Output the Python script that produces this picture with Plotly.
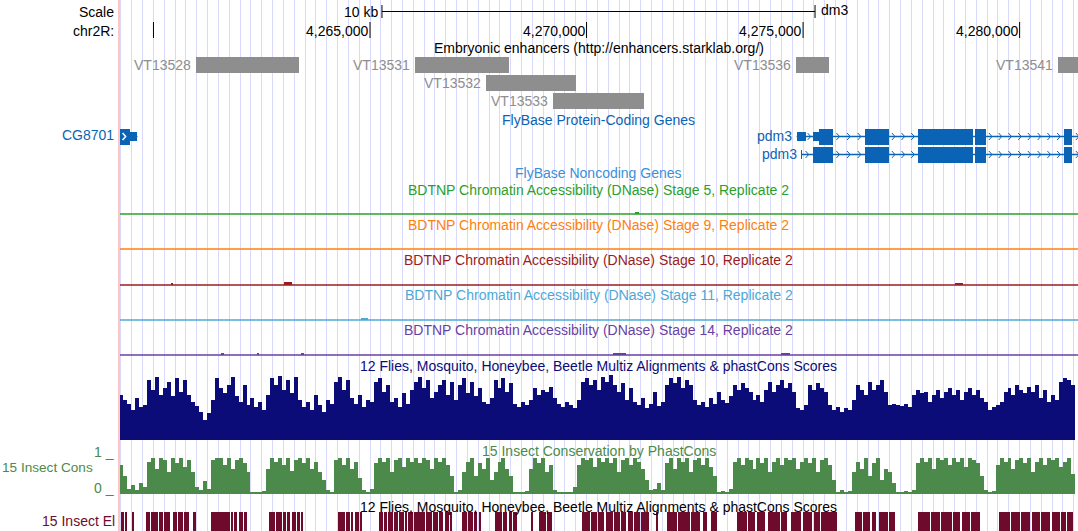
import plotly.graph_objects as go

# ---------------- data ----------------
chrom = "chr2R"
assembly = "dm3"
win_start = 4259204
win_end = 4281348

ruler_ticks = [4260000, 4265000, 4270000, 4275000, 4280000]
ruler_labels = ["", "4,265,000", "4,270,000", "4,275,000", "4,280,000"]
scale_bar_bp = 10000
scale_bar_label = "10 kb"

# Embryonic enhancers (Stark lab)
enh_names = ["VT13528", "VT13531", "VT13532", "VT13533", "VT13536", "VT13541"]
enh_start = [4260982, 4266039, 4267678, 4269225, 4274836, 4280886]
enh_end = [4263361, 4268210, 4269757, 4271327, 4275598, 4283000]
enh_row = [0, 0, 1, 2, 0, 0]

# FlyBase protein-coding genes
gene_names = ["CG8701", "pdm3", "pdm3"]
gene_row = [0, 0, 1]
gene_cds_start = [4252500, 4275367, 4275229]
gene_cds_end = [4259458, 4300000, 4300000]
gene_exon_starts = [
    [4258900],
    [4274852, 4275229, 4276430, 4277653, 4278981, 4281024, 4290000],
    [4274952, 4275229, 4276430, 4277653, 4278981, 4281024, 4290000],
]
gene_exon_ends = [
    [4259631],
    [4275067, 4275691, 4276984, 4278923, 4279223, 4281209, 4300000],
    [4274975, 4275691, 4276984, 4278923, 4279223, 4281209, 4300000],
]

# BDTNP DNase accessibility (nearly flat signal, a few small peaks)
bdtnp_stages = [5, 9, 10, 11, 14]
bdtnp_colors = ["#2ca02c", "#ff7f0e", "#9b1c22", "#4ea8d6", "#6a3fa5"]
peak_stage = [5, 10, 10, 10, 11, 14, 14, 14, 14, 14]
peak_start = [4271120, 4263010, 4260420, 4278500, 4264800, 4261580, 4262400, 4263400, 4270600, 4274500]
peak_end = [4271210, 4263200, 4260460, 4278700, 4264950, 4261620, 4262440, 4263480, 4270900, 4274700]
peak_height = [2, 3, 1.5, 1.5, 1.5, 1.5, 1.5, 1.5, 1.5, 1.5]

# fixedStep conservation wiggles
cons_start = 4259204
cons_step = 92
multiz_max = 65
multiz_cons = [45,40,36,30,42,33,35,60,50,63, 45,52,58,44,62,48,60,45,38,34,
               28,20,27,40,62,52,47,55,63,44, 38,55,35,42,33,38,30,45,62,55,
               64,50,60,47,63,40,33,38,30,45, 35,28,40,36,58,63,50,60,42,36,
               45,33,40,38,58,62,48,55,38,42, 33,47,36,50,58,63,52,60,42,48,
               55,60,45,58,40,55,62,47,58,44, 52,38,36,42,60,52,62,48,57,36,
               33,38,35,40,52,45,50,48,53,42, 36,33,38,35,32,40,58,62,55,60,
               50,63,58,65,55,48,57,40,52,38, 35,42,32,36,48,34,38,55,62,57,
               63,52,60,55,40,35,38,33,42,36, 48,40,37,44,55,50,57,52,48,40,
               45,38,50,58,48,55,60,52,57,48, 32,30,35,55,50,57,52,48,35,30,
               33,28,32,30,40,55,50,45,58,50, 55,60,48,35,36,35,34,36,33,45,
               50,47,48,38,45,50,42,48,52,45, 50,40,48,52,45,50,42,38,30,33,
               35,38,48,52,45,55,50,47,53,48, 55,42,50,38,45,40,58,62,60,55]
phast_cons = [80,50, 15,25,10,30,20, 90,100,70,100,95,60,100,85,100,75,95,60, 20,10,35,15,
              95,100,100,80,100,70,95,100,85,60, 5,3,2,8,
              70,100,90,100,80,100,65,95,100,85,100,70,90,60,40, 10,5,
              95,100,80,100,70,90,45, 10,5,15,
              85,100,90,100,60,95,100,75,100,90,100,85,100,95,70,100,90,100,80,50, 5,10,
              60,90,100,50,85,70,100,40,60, 90,100,70,50, 5,3,5,8,
              70,100,85,100,60,80, 10,5,3,2,5,20,
              80,100,95,100,75,100,90,100,85,100,60,95,100,80,100,90,70,40, 10,15,30,10,
              85,100,70,100,90,100,60,95,100,80,100,75,50, 5,8,3,15,
              90,100,80,100,95,70,100,85,100,60,90,100,80,100,95,100,70,90,100,85,100,60,95,100,80,40,
              5,10,3,8, 60,90,70,100,50,85,100,40,70,60,30, 5,3,8,5,10,
              85,100,90,100,70,100,95,100,80,100,90,100,75,100,95,85,50, 10,5,8,
              80,100,90,100,70,95,100,85,100,60,90,100,80,100,95,100,75,90,100,55]

# 15 insect conserved elements
elem_start = [4259250,4259343,4259527,4259827,4259943,4260128,4260243,4260451,4260566,4260705,
              4260774,4260913,4260959,4261328,4261790,4261859,4261975,4262090,4262668,4262829,
              4262991,4263083,4263199,4263314,4263406,4264261,4264445,4264561,4264653,4264769,
              4265207,4265323,4265415,4265554,4265669,4265808,4265877,4266016,4266293,4266454,
              4266593,4266731,4266847,4267124,4267262,4267401,4267539,4267886,4268071,4268209,
              4268301,4268740,4268902,4269087,4269895,4270102,4270264,4270449,4270634,4270795,
              4270957,4271095,4271257,4271626,4271857,4272111,4272411,4272689,4272873,4273474,
              4273728,4273935,4274189,4274489,4274720,4274997,4275252,4275413,4276198,4276383,
              4276591,4276752,4276983,4277653,4277953,4278184,4278461,4278669,4278876,4279523,
              4279800,4280031,4280285,4280493,4280747,4280955,4281093]
elem_end = [4259319,4259389,4259550,4259920,4260104,4260220,4260382,4260543,4260682,4260751,
            4260820,4260936,4260982,4261767,4261836,4261929,4262067,4262160,4262806,4262968,
            4263060,4263152,4263291,4263383,4263453,4264422,4264538,4264607,4264746,4264815,
            4265300,4265392,4265531,4265646,4265785,4265854,4265992,4266270,4266431,4266570,
            4266685,4266824,4266893,4267239,4267378,4267470,4267563,4268047,4268163,4268278,
            4268394,4268763,4269064,4269202,4270079,4270241,4270403,4270610,4270772,4270911,
            4271072,4271234,4271442,4271650,4272088,4272388,4272619,4272781,4273012,4273705,
            4273889,4274120,4274466,4274628,4274951,4275205,4275390,4275783,4276360,4276545,
            4276683,4276960,4277122,4277930,4278161,4278438,4278623,4278853,4279084,4279777,
            4280008,4280239,4280470,4280701,4280932,4281070,4281232]

# ---------------- layout constants (pixels) ----------------
W, H = 1078, 531
LABEL_W = 119
FONT = "Liberation Sans, Arial, Helvetica, sans-serif"
FS = 14
CENTER = (LABEL_W + W) / 2 / W
LEFT_LBL = (LABEL_W - 3) / W

GRAY = "#8e8e8e"
GENE_BLUE = "#0b63b6"
NONCODING_BLUE = "#3b8fd9"
NAVY = "#0c0c78"
PC_GREEN = "#4b8a4b"
EL_RED = "#6e0b2d"

Y_SCALE, Y_RULER = 11.5, 31
ENH_ROW_TOP = [57, 75, 93]
ENH_H = 16
GENE_ROW_Y = [136.5, 154.5]
CDS_H, UTR_H = 16, 9
BDTNP_TITLE_Y = [190, 225, 260, 295, 330]
BDTNP_BASE_Y = [214, 249, 285, 320, 355]
MULTIZ_BASE, MULTIZ_H = 440, 65
PC_BASE, PC_H = 494, 36
EL_TOP, EL_BOT = 512, 531

fig = go.Figure()
ann = []


def text(x, y, s, color="black", xanchor="center", xref="paper", xshift=0, size=FS):
    ann.append(dict(x=x, y=y, xref=xref, yref="y", text=s, showarrow=False,
                    xanchor=xanchor, yanchor="middle", xshift=xshift,
                    font=dict(family=FONT, size=size, color=color)))


def bars(xs0, xs1, base, height, color, name):
    fig.add_trace(go.Bar(
        x=[(a + b) / 2 for a, b in zip(xs0, xs1)],
        width=[b - a for a, b in zip(xs0, xs1)],
        base=base, y=height, marker=dict(color=color, line=dict(width=0)),
        name=name, hoverinfo="skip"))


# ---------------- ruler ----------------
text(LEFT_LBL, Y_SCALE, "Scale", xanchor="right")
text(LEFT_LBL, Y_RULER, chrom + ":", xanchor="right")
mid = (win_start + win_end) / 2
sb0, sb1 = mid - scale_bar_bp / 2, mid + scale_bar_bp / 2
fig.add_trace(go.Scatter(x=[sb0, sb1, None, sb0, sb0, None, sb1, sb1],
                         y=[Y_SCALE, Y_SCALE, None, 5, 18, None, 5, 18],
                         mode="lines", line=dict(color="black", width=1), hoverinfo="skip"))
text(sb0, Y_SCALE, scale_bar_label, xanchor="right", xref="x", xshift=-2)
text(sb1, Y_SCALE - 2, assembly, xanchor="left", xref="x", xshift=4)
tx, ty = [], []
for t, lab in zip(ruler_ticks, ruler_labels):
    tx += [t, t, None]
    ty += [22, 38, None]
    if lab:
        text(t, Y_RULER, lab, xanchor="right", xref="x", xshift=0)
fig.add_trace(go.Scatter(x=tx, y=ty, mode="lines", line=dict(color="black", width=1), hoverinfo="skip"))

# ---------------- enhancers ----------------
text(CENTER, 48, "Embryonic enhancers (http://enhancers.starklab.org/)")
bars(enh_start, enh_end, [ENH_ROW_TOP[r] for r in enh_row], [ENH_H] * len(enh_row), GRAY, "enh")
for n, s, r in zip(enh_names, enh_start, enh_row):
    text(s, ENH_ROW_TOP[r] + ENH_H / 2, n, color=GRAY, xanchor="right", xref="x", xshift=-3)

# ---------------- genes ----------------
text(CENTER, 120, "FlyBase Protein-Coding Genes", color=GENE_BLUE)
text(LEFT_LBL, GENE_ROW_Y[0] - 2, gene_names[0], color=GENE_BLUE, xanchor="right")
cds_x0, cds_x1, cds_b, utr_x0, utr_x1, utr_b = [], [], [], [], [], []
chev_x, chev_y, wchev_x, wchev_y = [], [], [], []
line_x, line_y = [], []
half_w = 45  # bp half-width of intron chevron
for g, (cs, ce, es, ee, r) in enumerate(zip(gene_cds_start, gene_cds_end, gene_exon_starts, gene_exon_ends, gene_row)):
    yc = GENE_ROW_Y[r]
    line_x += [es[0], ee[-1], None]
    line_y += [yc, yc, None]
    for a, b in zip(es, ee):
        c0, c1 = max(a, cs), min(b, ce)
        if c1 > c0:
            cds_x0.append(c0); cds_x1.append(c1); cds_b.append(yc - CDS_H / 2)
        for u0, u1 in ((a, min(b, cs)), (max(a, ce), b)):
            if u1 > u0:
                utr_x0.append(u0); utr_x1.append(u1); utr_b.append(yc - UTR_H / 2)
    for i in range(len(es) - 1):
        i0, i1 = max(ee[i], win_start), min(es[i + 1], win_end + 400)
        L = i1 - i0
        n = int(L // 215)
        if n == 0 and L > 140:
            n = 1
        for j in range(n):
            p = i0 + L / n * (j + 0.5)
            chev_x += [p - half_w, p + half_w * 0.6, p - half_w, None]
            chev_y += [yc - 3.5, yc, yc + 3.5, None]
    if es[0] < win_start:
        p = (win_start + min(ce, ee[0])) / 2
        wchev_x += [p - half_w, p + half_w * 0.6, p - half_w, None]
        wchev_y += [yc - 3.5, yc, yc + 3.5, None]
for g in (1, 2):
    text(gene_exon_starts[g][0], GENE_ROW_Y[gene_row[g]] - 0.5, gene_names[g], color=GENE_BLUE,
         xanchor="right", xref="x", xshift=-3 if g == 1 else -2)
fig.add_trace(go.Scatter(x=line_x, y=line_y, mode="lines", line=dict(color=GENE_BLUE, width=1.3), hoverinfo="skip"))
fig.add_trace(go.Scatter(x=chev_x, y=chev_y, mode="lines", line=dict(color=GENE_BLUE, width=1), hoverinfo="skip"))
bars(cds_x0, cds_x1, cds_b, [CDS_H] * len(cds_b), GENE_BLUE, "cds")
bars(utr_x0, utr_x1, utr_b, [UTR_H] * len(utr_b), GENE_BLUE, "utr")
fig.add_trace(go.Scatter(x=wchev_x, y=wchev_y, mode="lines", line=dict(color="white", width=1.5), hoverinfo="skip"))

text(CENTER, 173, "FlyBase Noncoding Genes", color=NONCODING_BLUE)

# ---------------- BDTNP ----------------
for k, (st, col) in enumerate(zip(bdtnp_stages, bdtnp_colors)):
    text(CENTER, BDTNP_TITLE_Y[k], f"BDTNP Chromatin Accessibility (DNase) Stage {st}, Replicate 2", color=col)
    yb = BDTNP_BASE_Y[k]
    fig.add_trace(go.Scatter(x=[win_start, win_end], y=[yb, yb], mode="lines",
                             line=dict(color=col, width=1.6), hoverinfo="skip"))
    idx = [i for i, s in enumerate(peak_stage) if s == st]
    if idx:
        bars([peak_start[i] for i in idx], [peak_end[i] for i in idx],
             [yb - peak_height[i] for i in idx], [peak_height[i] for i in idx], col, "peak")

# ---------------- Multiz conservation ----------------
text(CENTER, 366, "12 Flies, Mosquito, Honeybee, Beetle Multiz Alignments &amp; phastCons Scores", color=NAVY)
m0 = [cons_start + cons_step * i for i in range(len(multiz_cons))]
m1 = [x + cons_step for x in m0]
mh = [v / multiz_max * MULTIZ_H for v in multiz_cons]
bars(m0, m1, [MULTIZ_BASE - h for h in mh], mh, NAVY, "multiz")

# ---------------- phastCons ----------------
text(CENTER, 451, "15 Insect Conservation by PhastCons", color=PC_GREEN)
text(95 / W, 467, "15 Insect Cons", color=PC_GREEN, xanchor="right", size=13.6)
text(LEFT_LBL, PC_BASE - PC_H - 6, "1 _", color=PC_GREEN, xanchor="right")
text(LEFT_LBL, PC_BASE - 6, "0 _", color=PC_GREEN, xanchor="right")
p0 = [cons_start + cons_step * i for i in range(len(phast_cons))]
p1 = [x + cons_step for x in p0]
ph = [max(v, 3) / 100 * PC_H for v in phast_cons]
bars(p0, p1, [PC_BASE - h for h in ph], ph, PC_GREEN, "phast")

# ---------------- conserved elements ----------------
text(CENTER, 507, "12 Flies, Mosquito, Honeybee, Beetle Multiz Alignments &amp; phastCons Scores")
text(LEFT_LBL + 1 / W, 521, "15 Insect El", color=EL_RED, xanchor="right")
bars(elem_start, elem_end, [EL_TOP] * len(elem_start), [EL_BOT - EL_TOP] * len(elem_start), EL_RED, "elements")

# ---------------- layout ----------------
fig.update_layout(
    width=W, height=H, margin=dict(l=0, r=0, t=0, b=0),
    paper_bgcolor="white", plot_bgcolor="white",
    showlegend=False, barmode="overlay", bargap=0,
    annotations=ann,
    xaxis=dict(domain=[LABEL_W / W, 1], range=[win_start, win_end], showgrid=True,
               gridcolor="#d9d9fb", gridwidth=1, tick0=4265000, dtick=250,
               showticklabels=False, ticks="", zeroline=False, showline=False, fixedrange=True),
    yaxis=dict(range=[H, 0], domain=[0, 1], visible=False, fixedrange=True),
    shapes=[dict(type="line", xref="paper", yref="paper", x0=LABEL_W / W, x1=LABEL_W / W,
                 y0=0, y1=1, line=dict(color="#ffc4c4", width=2), layer="above")],
)

fig.write_html("out.html", config={"displayModeBar": False},
               post_script="document.body.style.margin='0';document.body.style.overflow='hidden';")
